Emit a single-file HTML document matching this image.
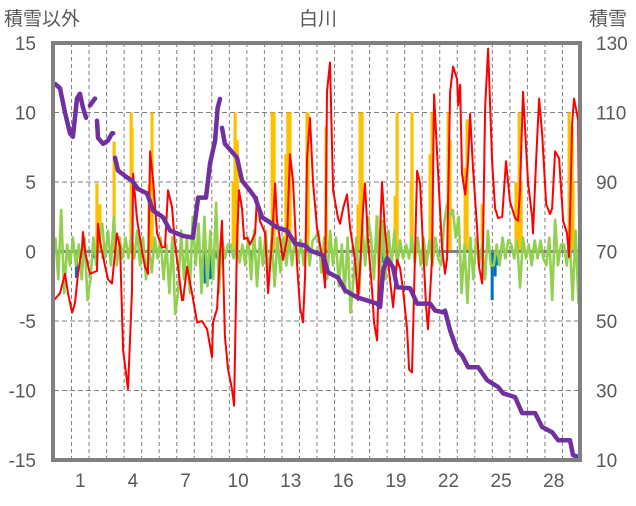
<!DOCTYPE html>
<html><head><meta charset="utf-8">
<style>
body{margin:0;background:#fff;}
svg text{font-family:"Liberation Sans","Noto Sans CJK JP",sans-serif;fill:#595959;}
</style></head>
<body>
<svg id="chart" width="636" height="501" viewBox="0 0 636 501" xmlns="http://www.w3.org/2000/svg">
<text x="318" y="25" font-size="19" text-anchor="middle">白川</text>
<text x="4" y="25" font-size="19">積雪以外</text>
<text x="589" y="25" font-size="19">積雪</text>
<g id="grid"></g>
<g id="bars"></g>
<g id="lines"></g>
<g id="axes"></g>
</svg>
<script>
const dayTicks=[1,4,7,10,13,16,19,22,25,28];
const leftTicks=[15,10,5,0,-5,-10,-15];
const rightTicks=[130,110,90,70,50,30,10];
const tempDays=[0,0.34,0.63,0.8,1.03,1.2,1.37,1.6,1.65,1.77,2.05,2.45,2.51,2.62,2.8,3.08,3.31,3.59,3.77,3.94,4.22,4.45,4.51,4.73,5.02,5.19,5.36,5.48,5.65,5.88,6.16,6.33,6.5,6.73,6.9,7.07,7.3,7.36,7.59,7.87,8.16,8.44,8.73,9.01,9.07,9.3,9.47,9.58,9.75,9.93,10.15,10.27,10.44,10.55,10.72,10.84,11.01,11.18,11.47,11.58,11.75,12.04,12.21,12.44,12.61,12.72,12.89,13.06,13.29,13.46,13.63,13.86,14.03,14.2,14.32,14.43,14.6,14.77,15.0,15.29,15.46,15.57,15.74,15.92,16.2,16.31,16.49,16.71,16.89,17.17,17.34,17.46,17.63,17.74,17.91,18.14,18.25,18.43,18.54,18.71,18.88,19.17,19.34,19.57,19.74,19.91,20.14,20.25,20.42,20.54,20.71,20.88,21.05,21.22,21.33,21.56,21.68,21.85,22.13,22.3,22.42,22.59,22.76,22.99,23.05,23.16,23.27,23.45,23.62,23.73,23.9,24.13,24.24,24.42,24.47,24.59,24.76,24.99,25.16,25.33,25.56,25.78,26.01,26.3,26.47,26.58,26.75,27.04,27.27,27.32,27.5,27.67,27.84,28.07,28.29,28.41,28.58,28.81,29.04,29.26,29.38,29.55,29.66,29.89,29.95];
const tempValues=[-3.5,-3.0,-1.6,-3,-4.4,-3.7,-1.6,0.3,1.4,0,-1.6,-1.4,2.0,0.8,-0.4,-2,-2.3,1.3,0.3,-7.1,-9.9,-2.8,5.6,2.4,0,-1.1,-1.6,7.2,5.1,1.3,0.3,0.3,4.4,3.2,0.5,-1.1,-3.5,-3.5,-1.1,-3.0,-5.1,-5,-5.6,-7.6,-5.1,-4.1,-0.1,2.2,-6.1,-8.5,-9.9,-11.1,0.8,4.4,3.1,0.9,1,0.5,1.3,3.9,2.2,1.3,-3,0.9,4.9,2.2,0.9,-0.6,0.9,7,5.1,-0.9,-4,-5.1,-1.7,6.7,9.6,5,1.7,-0.4,-2.6,11.5,13.6,4.4,2.4,2,3.1,4.1,1.7,-0.6,-3.5,-1.1,3.1,4.9,0.8,-2.8,-5.1,-6.4,-0.6,5,1.5,-2.1,-4,-0.6,-1.2,-2.8,-5.6,-8.5,-8.7,-2.8,5.8,4.9,0.3,-4,-5.6,-0.6,11.3,7,0.3,-1.6,-0.5,11.5,13.3,12.4,10.5,12,5.6,4.1,6.5,9.9,6,1.7,-1.1,-2.3,0.5,10.3,14.6,6.3,3.1,2.4,2.5,6.5,3.6,2.4,2.2,4.4,11.5,4.9,2.5,1.3,6.7,11,8.5,3.4,2.7,3.1,7.2,6.7,2.2,1.3,-0.4,9.1,11,9.5,1.3,0.5];
const snowDays=[0.06,0.34,0.63,0.91,1.08,1.31,1.48,1.66,1.83,null,2.05,2.34,null,2.45,2.51,2.8,3.08,3.31,3.37,null,3.48,3.65,4.17,4.45,4.79,5.31,5.65,6.22,6.62,7.02,7.36,7.93,8.22,8.67,8.9,9.19,9.33,9.47,null,9.58,9.75,10.44,10.72,11.18,11.47,11.87,12.32,12.72,13.29,13.75,14.32,14.6,15.34,15.63,16.2,16.6,17.29,17.86,18.43,18.6,18.77,19.0,19.34,19.57,20.31,20.71,21.45,21.74,22.19,22.3,22.59,22.99,23.27,23.62,24.19,24.7,25.33,25.61,26.3,26.7,27.44,27.84,28.41,28.75,29.43,29.6,29.89];
const snowValues=[118.2,117,110,104,103,114,115.4,111.3,108.5,null,112,114,null,107.6,102.7,101,101.9,104,104,null,97,93.3,91.3,90.4,88,86.7,81.8,79.8,76,75.2,74.5,74,85.5,85.5,95.3,101.9,111.3,113.9,null,105.6,101,97,90.4,87.5,85.5,79.8,78.4,76.9,76,72.3,71.7,70.3,68.9,64,62.5,58.8,56.8,55.9,55,54,64.5,68,65.4,59.7,59.4,55,55,53,52.5,53,47.3,41.6,40.1,36.7,36.7,33,31,29.2,28.1,23.5,23.5,19.5,18,15.7,15.7,11.4,10.9];
const precipDays=[2.45,2.62,3.43,4.4,4.45,4.39,5.42,5.59,10.33,10.22,10.45,12.44,12.55,13.34,13.46,13.23,14.43,14.49,15.52,17.46,17.57,17.34,18.43,19.57,19.46,20.42,20.37,21.45,21.56,22.48,22.59,23.56,23.45,24.42,26.35,26.53,26.64,29.38,29.55,29.6];
const precipValues=[4.9,3.4,7.9,10,8.9,3,4.8,10,10,5,8,10,10,10,10,7,10,10,9,10,10,3.4,2.6,10,4,10,5,7,10,10,8,9.5,6,3.4,5,10,5,10,9,5];
const negDays=[0.23,1.28,1.66,2.22,2.8,8.62,8.9,9.3,11.24,11.92,18.71,24.99,25.16,25.33];
const negValues=[-0.8,-1.9,-0.5,-0.5,-0.5,-2.3,-2,-0.5,-1.6,-0.5,-0.8,-3.5,-1.8,-1];
const changeValues=[1,-2,3,-3,0.5,-1, 1,-1,0.5,-2,1,-3.5, -2,1,-1,0.8,2,-0.5, 1.5,-1,2.5,-1,1,-0.5, 1,-0.5,1.2,-0.5,1.5,-1, 1,-2,0.5,-1.5,1,-0.5, 1,-2,0.5,-3,1,-4.5, -3,1.5,-2,1,-3,2.5, -1,2,-3,2.5,-2.5,1.5, -2,3.5,-3,1,-0.5,0.5, 0.5,-0.5,0.5,-0.8,0.5,-1, 1,-2,1.5,-2.5,1,-1, 1.5,-2,1,-2.5,1,-1.5, 1,-1,0.8,-1,1,-0.8, 0.8,-1,1,-1,0.8,1, 1.5,-1.5,1,-2,1.5,-1, 1,-2.5,0.5,-3,1,-4.4, -2,1,-3,2,-1,2.5, 1,-2,2.5,-3,2.2,-2, 1.5,-1,1.5,-1,0.8,-0.5, 0.5,-0.5,1,-0.8,1,-1, 1,-1,0.8,-1,1,-0.5, -1,2,3.4,2.5,3,1, 2.5,-3,0.5,-3.7,1,-2, 1,-1,0.5,-2,1.5,-1, -1,0.5,-1,1,-0.5,0.8, 0.5,-0.5,0.8,-2.6,1,-0.5, 0.5,-1,0.8,-0.5,0.8,-0.5, -1,1,-3.5,2.3,-1,0.5, 0.5,-1,1,-3.5,1.5,-3.8];

const X0=54,X1=580,Y0=43,Y1=460,NS="http://www.w3.org/2000/svg";
const xs=d=>X0+(X1-X0)*d/30;
const yl=v=>Y0+(15-v)*(Y1-Y0)/30;
const yr=v=>Y0+(130-v)*(Y1-Y0)/120;
function mk(tag,parent,attrs){const e=document.createElementNS(NS,tag);for(const k in attrs)e.setAttribute(k,attrs[k]);document.getElementById(parent).appendChild(e);return e;}

for(let i=1;i<30;i++){
  const l=mk('line','grid',{x1:xs(i),x2:xs(i),y1:Y0,y2:Y1,stroke:'#7f7f7f','stroke-width':1,'stroke-dasharray':'4,3'});
  
  
}
leftTicks.forEach(v=>{
  if(v!==0&&Math.abs(v)!==15){
    const l=mk('line','grid',{x1:X0,x2:X1,y1:yl(v),y2:yl(v),stroke:'#7f7f7f','stroke-width':1,'stroke-dasharray':'5,3'});
    
    
  }
  const t=mk('text','axes',{x:36,y:yl(v)+7,'font-size':19,'text-anchor':'end'});
  t.textContent=v;
  
  
});
rightTicks.forEach(v=>{
  const t=mk('text','axes',{x:596,y:yr(v)+7,'font-size':19});
  t.textContent=v;
  
  
});
dayTicks.forEach(d=>{
  const t=mk('text','axes',{x:xs(d+0.5),y:487,'font-size':19,'text-anchor':'middle'});
  t.textContent=d;
  
  
});
precipDays.forEach((d,i)=>{
  const v=precipValues[i];
  const r=mk('rect','bars',{x:xs(d)-1.6,y:yl(v),width:3.2,height:yl(0)-yl(v),fill:'#ffc000'});
  
  
});
negDays.forEach((d,i)=>{
  const v=negValues[i];
  const r=mk('rect','bars',{x:xs(d)-1.5,y:yl(0),width:3,height:yl(v)-yl(0),fill:'#0070c0'});
  
  
});
const z=mk('line','bars',{x1:X0,x2:X1,y1:yl(0),y2:yl(0),stroke:'#808080','stroke-width':3});



let gp='';
changeValues.forEach((v,i)=>{gp+=(i?'L':'M')+xs(i*30/changeValues.length+0.08).toFixed(1)+','+yl(v).toFixed(1);});
const g=mk('path','lines',{d:gp,fill:'none',stroke:'#92d050','stroke-width':2.6,'stroke-linejoin':'round'});



let rp='';
tempDays.forEach((d,i)=>{rp+=(i?'L':'M')+xs(d).toFixed(1)+','+yl(tempValues[i]).toFixed(1);});
const r=mk('path','lines',{d:rp,fill:'none',stroke:'#ff0000','stroke-width':2,'stroke-linejoin':'round'});



let sp='',pen=false;
snowDays.forEach((d,i)=>{
  if(d===null){pen=false;return;}
  sp+=(pen?'L':'M')+xs(d).toFixed(1)+','+yr(snowValues[i]).toFixed(1);pen=true;
});
const s=mk('path','lines',{d:sp,fill:'none',stroke:'#7030a0','stroke-width':4.5,'stroke-linejoin':'round','stroke-linecap':'round'});



const b=mk('rect','axes',{x:X0-1,y:Y0,width:X1-X0+1,height:Y1-Y0,fill:'none',stroke:'#808080','stroke-width':4});


</script>
</body></html>
